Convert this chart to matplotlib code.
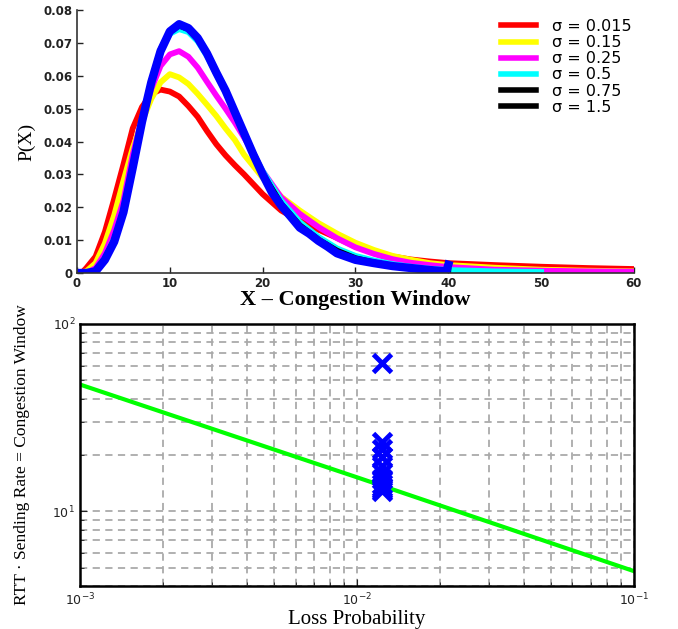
import numpy as np
import matplotlib
matplotlib.use('Agg')
import matplotlib.pyplot as plt
from matplotlib.ticker import LogLocator, NullFormatter

# ---- top panel: window distributions P(X) ----
x_red = [0, 0.5, 1, 2, 3, 4, 5, 6, 7, 8, 9, 10, 11, 12, 13, 14, 15, 16, 17, 18, 19, 20,
         22, 24, 26, 28, 30, 32, 34, 36, 38, 40, 45, 50, 55, 60]
p_red = [0, 0, 0.0015, 0.005, 0.0125, 0.0225, 0.033, 0.044, 0.0505, 0.0545, 0.0558, 0.0552,
         0.0537, 0.0508, 0.0475, 0.0432, 0.0392, 0.0358, 0.0328, 0.0300, 0.0270, 0.0240,
         0.0190, 0.0158, 0.0132, 0.0107, 0.0080, 0.0062, 0.0050, 0.0041, 0.0035, 0.0030,
         0.0024, 0.0019, 0.0015, 0.0012]

x_yel = [0, 1, 2, 3, 4, 5, 6, 7, 8, 9, 10, 11, 12, 13, 14, 15, 16, 17, 18, 19, 20,
         22, 24, 26, 28, 30, 32, 34, 36, 38, 40, 45, 50, 55, 60]
p_yel = [0, 0.0005, 0.003, 0.009, 0.0175, 0.028, 0.038, 0.046, 0.053, 0.058, 0.0605, 0.0595,
         0.0575, 0.0545, 0.0512, 0.0478, 0.0440, 0.0405, 0.0360, 0.0325, 0.0290,
         0.0232, 0.0190, 0.0152, 0.0120, 0.0092, 0.0070, 0.0052, 0.0040, 0.0030, 0.0024,
         0.0016, 0.0010, 0.0007, 0.0005]

x_mag = [0, 1, 2, 3, 4, 5, 6, 7, 8, 9, 10, 11, 12, 13, 14, 15, 16, 17, 18, 19, 20,
         22, 24, 26, 28, 30, 32, 34, 36, 38, 40, 45, 50, 55, 60]
p_mag = [0, 0, 0.0015, 0.006, 0.013, 0.022, 0.036, 0.047, 0.056, 0.063, 0.0665, 0.0675,
         0.0658, 0.0625, 0.0582, 0.0540, 0.0500, 0.0458, 0.0412, 0.0365, 0.0310,
         0.0230, 0.0180, 0.0140, 0.0106, 0.0078, 0.0058, 0.0042, 0.0031, 0.0024, 0.0018,
         0.0010, 0.0007, 0.0005, 0.0004]

x_cya = [0, 1, 2, 3, 4, 5, 6, 7, 8, 9, 10, 11, 12, 13, 14, 15, 16, 17, 18, 19, 20,
         22, 24, 26, 28, 30, 32, 34, 36, 38, 40, 45, 50]
p_cya = [0, 0, 0.0008, 0.0045, 0.0105, 0.0195, 0.033, 0.047, 0.0585, 0.0675, 0.0728, 0.0742,
         0.0733, 0.0705, 0.0660, 0.0605, 0.0550, 0.0490, 0.0428, 0.0365, 0.0310,
         0.0220, 0.0155, 0.0110, 0.0075, 0.0052, 0.0038, 0.0027, 0.0019, 0.0013, 0.0009,
         0.0005, 0.0003]

x_blk = [0, 1, 2, 3, 4, 5, 6, 7, 8, 9, 10, 11, 12, 13, 14, 15, 16, 17, 18, 19, 20,
         22, 24, 26, 28, 30, 32, 34, 36, 38, 40]
p_blk = [0, 0, 0.0006, 0.0042, 0.010, 0.019, 0.0325, 0.0465, 0.0585, 0.068, 0.0735, 0.0753,
         0.0742, 0.0712, 0.0666, 0.0610, 0.0553, 0.0492, 0.0428, 0.0362, 0.0302,
         0.0210, 0.0145, 0.0102, 0.0068, 0.0045, 0.0032, 0.0022, 0.0015, 0.0010, 0.0007]

x_blu = [0, 1, 2, 3, 4, 5, 6, 7, 8, 9, 10, 11, 12, 13, 14, 15, 16, 17, 18, 19, 20,
         21, 22, 23, 24, 25, 26, 27, 28, 30, 32, 34, 36, 38, 39.8, 40]
p_blu = [0, 0, 0.0005, 0.004, 0.0095, 0.0185, 0.032, 0.046, 0.058, 0.0675, 0.0735, 0.0757,
         0.0745, 0.0715, 0.0668, 0.0610, 0.0555, 0.0490, 0.0425, 0.0360, 0.0300,
         0.0245, 0.0205, 0.0172, 0.0138, 0.0120, 0.0098, 0.0080, 0.0060, 0.0040, 0.0030,
         0.0021, 0.0015, 0.0009, 0.0005, 0.0025]

sigma_labels = ['\u03c3 = 0.015', '\u03c3 = 0.15', '\u03c3 = 0.25',
                '\u03c3 = 0.5', '\u03c3 = 0.75', '\u03c3 = 1.5']

# ---- bottom panel: window vs loss probability ----
loss_line = [0.001, 0.01, 0.1]
window_line = [47.5, 15.2, 4.8]

loss_pts = [0.0123] * 11
window_pts = [62.0, 23.5, 21.5, 19.5, 17.5, 16.0, 14.8, 14.0, 13.5, 13.1, 12.8]

top_yticks = [0, 0.01, 0.02, 0.03, 0.04, 0.05, 0.06, 0.07, 0.08]
top_ylabels = ['0', '0.01', '0.02', '0.03', '0.04', '0.05', '0.06', '0.07', '0.08']
top_xticks = [0, 10, 20, 30, 40, 50, 60]

serif = 'Liberation Serif'
tickfont = {'family': 'DejaVu Sans', 'weight': 'bold', 'size': 8.5}

fig = plt.figure(figsize=(6.78, 6.29), dpi=100)

ax1 = fig.add_axes([0.1136, 0.566, 0.8214, 0.418])
ax1.plot(x_red, p_red, color='#ff0000', lw=4.2, label=sigma_labels[0])
ax1.plot(x_yel, p_yel, color='#ffff00', lw=4.2, label=sigma_labels[1])
ax1.plot(x_mag, p_mag, color='#ff00ff', lw=4.2, label=sigma_labels[2])
ax1.plot(x_cya, p_cya, color='#00ffff', lw=4.2, label=sigma_labels[3])
ax1.plot(x_blk, p_blk, color='black', lw=4.2, label=sigma_labels[4])
ax1.plot(x_blu, p_blu, color='#0000ff', lw=6.0, label=sigma_labels[5])
ax1.set_xlim(0, 60)
ax1.set_ylim(0, 0.08)
ax1.set_xticks(top_xticks)
ax1.set_xticklabels([str(t) for t in top_xticks], fontdict=tickfont)
ax1.set_yticks(top_yticks)
ax1.set_yticklabels(top_ylabels, fontdict=tickfont)
ax1.tick_params(direction='in', length=4, width=1, colors='#222222', pad=3)
for s in ['top', 'right']:
    ax1.spines[s].set_visible(False)
for s in ['left', 'bottom']:
    ax1.spines[s].set_color('#333333')
    ax1.spines[s].set_linewidth(1.2)
ax1.set_ylabel('P(X)', family=serif, fontsize=14, labelpad=6)
ax1.set_xlabel('X \u2013 Congestion Window', family=serif, fontsize=16,
               fontweight='bold', labelpad=0)

leg = ax1.legend(loc='upper left', bbox_to_anchor=(0.75, 0.99), frameon=False,
                 prop={'family': 'DejaVu Sans', 'size': 11.5}, handlelength=2.2,
                 handletextpad=1.0, labelspacing=0.07, borderaxespad=0)
for h in leg.get_lines():
    h.set_linewidth(4)
leg.get_lines()[5].set_color('black')

# bottom
ax2 = fig.add_axes([0.118, 0.0684, 0.817, 0.4166])
ax2.plot(loss_line, window_line, color='#00ff00', lw=3)
ax2.plot(loss_pts, window_pts, 'x', color='#0000ff', ms=13, mew=3.5)
ax2.set_xscale('log')
ax2.set_yscale('log')
ax2.set_xlim(1e-3, 1e-1)
ax2.set_ylim(4, 100)
ax2.xaxis.set_minor_locator(LogLocator(base=10, subs=np.arange(2, 10)))
ax2.yaxis.set_minor_locator(LogLocator(base=10, subs=np.arange(2, 10)))
ax2.xaxis.set_minor_formatter(NullFormatter())
ax2.yaxis.set_minor_formatter(NullFormatter())
ax2.grid(True, which='both', color='#aaaaaa', linestyle=(0, (4, 3)), lw=1.3)
ax2.set_axisbelow(True)
ax2.tick_params(which='both', direction='in', colors='#222222', labelsize=9)
ax2.tick_params(which='major', length=5)
ax2.tick_params(which='minor', length=3)
ax2.tick_params(axis='x', pad=4)
for s in ax2.spines.values():
    s.set_linewidth(1.8)
    s.set_color('black')
ax2.set_xlabel('Loss Probability', family=serif, fontsize=15, labelpad=1)
ax2.set_ylabel('RTT \u00b7 Sending Rate = Congestion Window', family=serif,
               fontsize=12.5, labelpad=16)

fig.savefig('out.png', dpi=100)
